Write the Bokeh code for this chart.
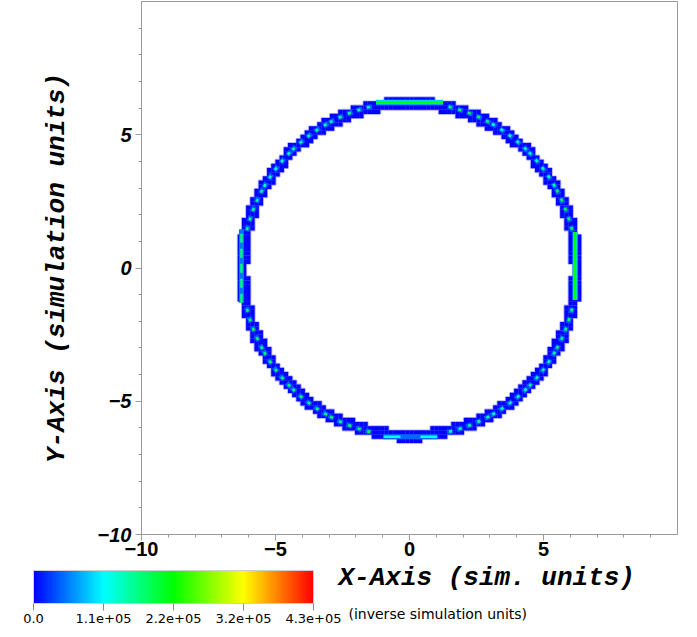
import numpy as np
from bokeh.plotting import figure
from bokeh.models import (LinearColorMapper, ColorBar, FixedTicker, Title, Range1d,
                          ColumnDataSource, CustomJSTickFormatter)
from bokeh.transform import transform
from bokeh.embed import file_html
from bokeh.resources import INLINE

# ---------------- data ----------------
axis_ticks = [-10, -5, 0, 5]
axis_tick_labels = ["\u221210", "\u22125", "0", "5"]
axis_minor_ticks = list(range(-10, 10))

value_low = 0.0
value_high = 4.3e5
cbar_ticks = [0.0, 1.075e5, 2.15e5, 3.225e5, 4.3e5]
cbar_tick_labels = ["0.0", "1.1e+05", "2.2e+05", "3.2e+05", "4.3e+05"]

# ring shell on the mesh
ring_center_x = 0.0
ring_center_y = -0.05
ring_inner_r = 6.02
ring_outer_r = 6.45
mesh_cell = 0.15625
ring_body_value = 0.03e5

# grid-aligned flat parts of the shell (right, top, left, bottom)
flat_x0 = [6.18, -1.25, -6.27, -0.97]
flat_y0 = [-1.2, 6.22, -1.3, -6.33]
flat_x1 = [6.18, 1.25, -6.27, 1.04]
flat_y1 = [1.35, 6.22, 1.45, -6.33]
flat_value = [2.1e5, 2.15e5, 1.7e5, 1.2e5]
flat_halo_value = [0.9e5, 0.9e5, 0.5e5, 0.45e5]

# curved parts of the shell: sectors and their peak values
arc_start_deg = [13, 29, 45, 61, 103, 119, 135, 151, 193, 209, 225, 241, 283, 299, 315, 331]
arc_end_deg = [29, 45, 61, 77, 119, 135, 151, 167, 209, 225, 241, 257, 299, 315, 331, 347]
arc_peak_value = [1.9e5, 1.4e5, 1.3e5, 1.8e5, 1.5e5, 1.5e5, 1.3e5, 1.6e5,
                  1.8e5, 1.8e5, 1.7e5, 1.8e5, 1.5e5, 1.4e5, 1.5e5, 1.7e5]
arc_halo_value = [0.4e5] * 16
arc_radius = 6.24

x_title = "X-Axis (sim. units)"
y_title = "Y-Axis (simulation units)"
value_units = "(inverse simulation units)"

# ---------------- colour map ----------------
stops = [(0, 0, 255), (0, 255, 255), (0, 255, 0), (255, 255, 0), (255, 0, 0)]
palette = []
for i in range(256):
    t = i / 255 * 4
    k = min(int(t), 3)
    f = t - k
    c = [round(stops[k][j] + (stops[k + 1][j] - stops[k][j]) * f) for j in range(3)]
    palette.append("#%02x%02x%02x" % tuple(c))
mapper = LinearColorMapper(palette=palette, low=value_low, high=value_high)

# ---------------- figure ----------------
p = figure(width=697, height=637, x_range=Range1d(-10, 10), y_range=Range1d(-10, 10),
           output_backend="svg", toolbar_location=None,
           min_border_left=141, min_border_right=20, min_border_top=1, min_border_bottom=103)
p.grid.visible = False
p.outline_line_color = "#9a9a9a"
p.background_fill_color = "white"
p.border_fill_color = "white"

for ax in (p.xaxis[0], p.yaxis[0]):
    ax.ticker = FixedTicker(ticks=axis_ticks, minor_ticks=axis_minor_ticks)
    ax.major_label_overrides = dict(zip(axis_ticks, axis_tick_labels))
    ax.axis_line_color = "#9a9a9a"
    ax.major_tick_line_color = "#9a9a9a"
    ax.minor_tick_line_color = "#9a9a9a"
    ax.major_tick_in = 0
    ax.major_tick_out = 6
    ax.minor_tick_in = 0
    ax.minor_tick_out = 3
    ax.major_label_text_font = "Liberation Sans"
    ax.major_label_text_font_size = "20px"
    ax.major_label_text_color = "black"

p.xaxis.major_label_text_font_style = "bold"
p.xaxis.major_label_standoff = 1
p.yaxis.major_label_text_font_style = "bold italic"
p.yaxis.major_label_standoff = 4

p.yaxis.axis_label = y_title
p.yaxis.axis_label_text_font = "Liberation Mono"
p.yaxis.axis_label_text_font_style = "bold italic"
p.yaxis.axis_label_text_font_size = "26px"
p.yaxis.axis_label_text_color = "black"
p.yaxis.axis_label_standoff = 23

# ring cells
centers = np.arange(-10 + mesh_cell / 2, 10, mesh_cell)
gx, gy = np.meshgrid(centers, centers)
rr = np.hypot(gx - ring_center_x, gy - ring_center_y)
mask = (rr >= ring_inner_r) & (rr <= ring_outer_r)
cells = ColumnDataSource(dict(x=gx[mask], y=gy[mask],
                              v=np.full(mask.sum(), ring_body_value)))
p.rect("x", "y", width=mesh_cell, height=mesh_cell, source=cells,
       fill_color="#b4b4ff", line_color="#b4b4ff", line_width=2)
p.rect("x", "y", width=mesh_cell * 1.04, height=mesh_cell * 1.04, source=cells,
       fill_color=transform("v", mapper), line_color=None)

# curved highlights
arcs = ColumnDataSource(dict(a0=np.radians(arc_start_deg), a1=np.radians(arc_end_deg),
                             pk=arc_peak_value, halo=arc_halo_value))
p.arc(x=ring_center_x, y=ring_center_y, radius=arc_radius, start_angle="a0", end_angle="a1",
      source=arcs, line_color=transform("halo", mapper), line_width=5, line_dash="6 4")
p.arc(x=ring_center_x, y=ring_center_y, radius=arc_radius, start_angle="a0", end_angle="a1",
      source=arcs, line_color=transform("pk", mapper), line_width=2.5, line_dash="0 2 3 5")

# flat highlights
flat_dash = ["solid", "solid", "9 6", "17 20"]
for i in range(4):
    src = ColumnDataSource(dict(x0=[flat_x0[i]], y0=[flat_y0[i]], x1=[flat_x1[i]], y1=[flat_y1[i]],
                                v=[flat_value[i]], h=[flat_halo_value[i]]))
    p.segment("x0", "y0", "x1", "y1", source=src, line_color=transform("h", mapper), line_width=5)
    p.segment("x0", "y0", "x1", "y1", source=src, line_color=transform("v", mapper),
              line_width=2.5, line_dash=flat_dash[i])

# colour bar
fmt = CustomJSTickFormatter(args=dict(tvals=cbar_ticks, tlabels=cbar_tick_labels), code="""
let best = 0;
for (let i = 0; i < tvals.length; i++) {
  if (Math.abs(tvals[i] - tick) < Math.abs(tvals[best] - tick)) best = i;
}
return tlabels[best];
""")
cbar = ColorBar(color_mapper=mapper, orientation="horizontal", width=280, height=33,
                location=(-108, -91), padding=0, margin=0,
                ticker=FixedTicker(ticks=cbar_ticks), formatter=fmt,
                major_tick_in=0, major_tick_out=7, major_tick_line_color="#8a8a8a",
                minor_tick_line_color=None, bar_line_color="#cfcfcf",
                border_line_color=None, background_fill_alpha=0,
                major_label_text_font="DejaVu Sans", major_label_text_font_size="13px",
                major_label_text_color="black", label_standoff=3)
p.add_layout(cbar, "center")

p.add_layout(Title(text=x_title, align="left", offset=197, standoff=5,
                   text_font="Liberation Mono", text_font_style="bold italic",
                   text_font_size="26px", text_color="black"), "below")
p.add_layout(Title(text=value_units, align="left", offset=207, standoff=16,
                   text_font="DejaVu Sans", text_font_style="normal",
                   text_font_size="14px", text_color="black"), "below")

open("out.html", "w").write(file_html(p, INLINE))
